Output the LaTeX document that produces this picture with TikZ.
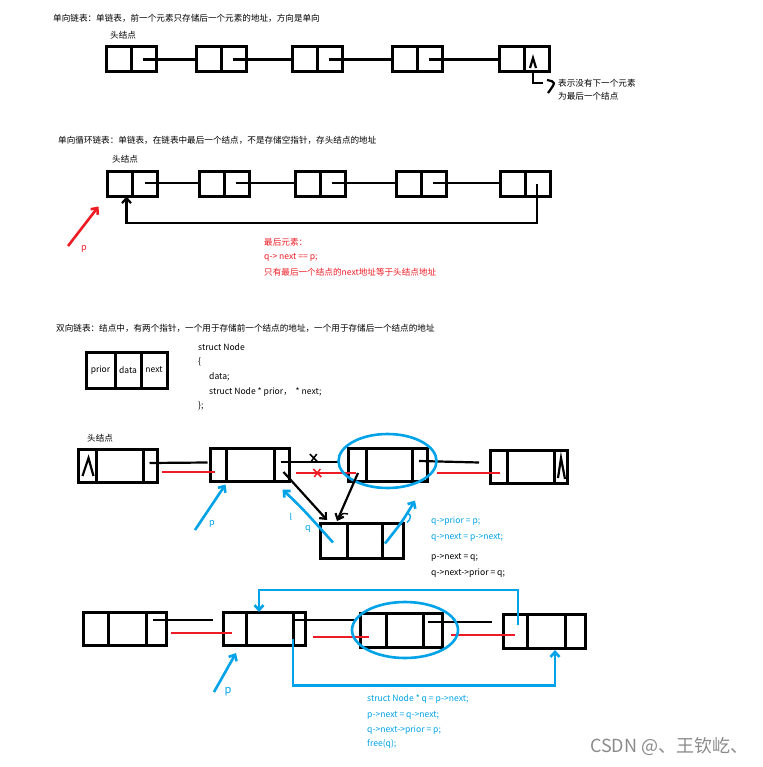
\documentclass[tikz,border=0pt]{standalone}
\usepackage{fontspec}
\setmainfont{Noto Sans CJK SC}
\usetikzlibrary{arrows.meta,calc,positioning}
\definecolor{pblue}{HTML}{00A2E8}
\definecolor{pred}{HTML}{ED1C24}
\definecolor{wmgray}{HTML}{8A8A8A}
\tikzset{tip/.style={-{Straight Barb[length=5pt,width=9pt]}},
  sbox/.style={draw, line width=3pt, minimum width=50pt, minimum height=25pt, inner sep=0pt, outer sep=0pt},
  dbox/.style={draw, line width=3pt, minimum width=79pt, minimum height=33pt, inner sep=0pt, outer sep=0pt},
  fld/.style={draw, line width=3pt, minimum height=36pt, inner sep=0pt, outer sep=0pt, font=\fontsize{8.5}{10}\selectfont},
  wall/.style={line width=3pt},
  link/.style={line width=2.2pt},
  redlink/.style={draw=pred, line width=2.6pt},
  bluelink/.style={draw=pblue, line width=2.6pt},
  note/.style={font=\fontsize{8.6}{10}\selectfont, inner sep=0pt, anchor=west}}

\begin{document}
\begin{tikzpicture}[x=1pt, y=-1pt]
  \useasboundingbox (0,0) rectangle (762,767);
  % single list
  \node[note] (t1) at (53,18) {单向链表：单链表，前一个元素只存储后一个元素的地址，方向是单向};
  \node[note] (h1) at (110,35) {头结点};
  \foreach \i/\x in {1/131,2/221,3/317,4/417,5/524}
    \node[sbox] (s\i) at (\x,59.5) {};
  \foreach \i in {1,...,5} \draw[wall] (s\i.north) -- (s\i.south);
  \foreach \i/\j in {1/2,2/3,3/4,4/5} \draw[link] ($(s\i.center)+(12,0)$) -- (s\j.west);
  \draw[link] ($(s5.center)+(6,8.5)$) -- ++(3,-10) -- ++(3,10);
  \node[note] (n1) at (558,83) {表示没有下一个元素};
  \node[note] (n2) at (558,96) {为最后一个结点};
  \draw[link] ($(s5.center)+(9,11)$) |- ($(n1.west)+(-15,0)$);
  \draw[link] ($(n1.west)+(-11,-3)$) .. controls ($(n1.west)+(-2,-1)$) .. ($(n1.west)+(-10,10)$);

  % circular list
  \node[note] (t2) at (58,140) {单向循环链表：单链表，在链表中最后一个结点，不是存储空指针，存头结点的地址};
  \node[note] (h2) at (112,159) {头结点};
  \foreach \i/\x in {1/132.5,2/224,3/320,4/421,5/525}
    \node[sbox] (c\i) at (\x,184) {};
  \foreach \i in {1,...,5} \draw[wall] (c\i.north) -- (c\i.south);
  \foreach \i/\j in {1/2,2/3,3/4,4/5} \draw[link] ($(c\i.center)+(12,-1)$) -- ($(c\j.west)+(0,-1)$);
  \draw[link, tip] ($(c5.center)+(12,0)$) -- ++(0,39) -| ($(c1.south)+(-6,0)$);
  \coordinate (p2) at (68,246);
  \node[text=pred, font=\fontsize{9}{10}\selectfont] (p2l) at (84,249) {p};
  \draw[redlink, tip] (p2) -- ($(c1.south west)+(-9,10)$);
  \node[note, text=pred] (r1) at (264,242) {最后元素：};
  \node[note, text=pred] (r2) at (264,257) {q-> next == p;};
  \node[note, text=pred] (r3) at (264,272) {只有最后一个结点的next地址等于头结点地址};

  % double list
  \node[note] (t3) at (56,328) {双向链表：结点中，有两个指针，一个用于存储前一个结点的地址，一个用于存储后一个结点的地址};
  \node[fld, minimum width=29pt] (fprior) at (100.5,370) {prior};
  \node[fld, minimum width=26pt, right=0pt of fprior] (fdata) {data};
  \node[fld, minimum width=26pt, right=0pt of fdata] (fnext) {next};
  \node[note, anchor=north west, align=left, font=\fontsize{8.6}{14.7}\selectfont] (code) at (198,343)
    {struct Node\\ \{\\ \hspace{11pt}data;\\ \hspace{11pt}struct Node * prior，\ \ * next;\\ \};};

  % insert q after p
  \node[note] (h3) at (87,438) {头结点};
  \node[dbox] (dA) at (118,465.5) {};
  \node[dbox] (dB) at (250,465) {};
  \node[dbox] (dC) at (387.5,465) {};
  \node[dbox, minimum width=77pt] (dD) at (528.5,466.5) {};
  \node[dbox, minimum width=83pt, minimum height=35pt] (dQ) at (361.5,540.5) {};
  \foreach \n/\l/\r in {dA/18/14,dB/16/15,dC/18/15,dD/17/13,dQ/27/21}{
    \draw[wall] ($(\n.north west)+(\l,0)$) -- ($(\n.south west)+(\l,0)$);
    \draw[wall] ($(\n.north east)+(-\r,0)$) -- ($(\n.south east)+(-\r,0)$);}
  \draw[link] ($(dA.west)+(4,10.5)$) -- ++(6,-18) -- ++(5,18);
  \draw[link] ($(dD.east)+(-9,11.5)$) -- ++(3,-20) -- ++(4,21);
  \draw[link] ($(dA.east)+(-8,-2.5)$) -- ($(dB.west)+(-3,-2.5)$);
  \draw[redlink] ($(dB.west)+(4,7)$) -- ($(dA.east)+(4,6.5)$);
  \draw[link] ($(dB.east)+(-9,-3)$) -- ($(dC.west)+(-10,-3)$);
  \draw[redlink] ($(dC.west)+(8,8)$) -- ($(dB.east)+(6,8)$);
  \draw[link] ($(dC.east)+(-8,-4)$) -- ($(dD.west)+(-11,-4)$);
  \draw[redlink] ($(dD.west)+(10,6.5)$) -- ($(dC.east)+(10,8)$);
  % crossed-out links
  \coordinate (xb) at ($(dB.east)!0.5!(dC.west)+(-5,-7)$);
  \coordinate (xr) at ($(dB.east)!0.5!(dC.west)+(-1.5,8)$);
  \draw[line width=1.5pt] ($(xb)+(-4,-4)$) -- ($(xb)+(4,4)$) ($(xb)+(3,-4)$) -- ($(xb)+(-3,4)$);
  \draw[draw=pred, line width=1.5pt] ($(xr)+(-4,-4)$) -- ($(xr)+(4,4)$) ($(xr)+(3,-4)$) -- ($(xr)+(-3,4)$);
  \draw[bluelink] ($(dC.center)+(0,-4)$) ellipse [x radius=49pt, y radius=27pt];
  \draw[link, tip] ($(dB.east)+(-6,7)$) -- ($(dQ.north west)+(7,-3)$);
  \draw[link, tip] ($(dC.west)+(10,8)$) -- ($(dQ.north west)+(17,-2)$);
  \draw[line width=1.4pt] ($(dQ.north west)+(20,-5)$) .. controls ($(dQ.north west)+(22,-10)$) .. ($(dQ.north west)+(28,-9)$);
  \draw[bluelink, tip] ($(dQ.west)+(13,2)$) .. controls (302,508) .. ($(dB.south east)+(-7,8)$);
  \node[text=pblue, font=\fontsize{9}{10}\selectfont] (lq1) at (291,517) {l};
  \node[text=pblue, font=\fontsize{9}{10}\selectfont] (lq2) at (308,529) {q};
  \draw[bluelink, tip] ($(dQ.east)+(-18,3)$) .. controls (402,522) .. ($(dC.south east)+(-12,19)$);
  \draw[draw=pblue, line width=1.4pt] ($(dC.south east)+(-20,32)$) .. controls ($(dC.south east)+(-15,32)$) and ($(dC.south east)+(-16,38)$) .. ($(dC.south east)+(-20,41)$);
  \coordinate (p3) at (195,530);
  \node[text=pblue, font=\fontsize{9}{10}\selectfont] (p3l) at (212,524) {p};
  \draw[bluelink, tip] (p3) -- ($(dB.south west)+(15,3)$);
  \node[note, text=pblue] (i1) at (431,521) {q->prior = p;};
  \node[note, text=pblue] (i2) at (431,537) {q->next = p->next;};
  \node[note] (i3) at (431,557) {p->next = q;};
  \node[note] (i4) at (431,573) {q->next->prior = q;};

  % delete q after p
  \node[dbox, minimum width=83pt] (dE) at (124.5,628.5) {};
  \node[dbox, minimum width=82pt] (dF) at (264,628.5) {};
  \node[dbox, minimum width=82pt, minimum height=34pt] (dG) at (401,630) {};
  \node[dbox, minimum width=82pt, minimum height=34pt] (dH) at (544,631) {};
  \foreach \n/\l/\r in {dE/25/20,dF/23/12,dG/26/19,dH/24/20}{
    \draw[wall] ($(\n.north west)+(\l,0)$) -- ($(\n.south west)+(\l,0)$);
    \draw[wall] ($(\n.north east)+(-\r,0)$) -- ($(\n.south east)+(-\r,0)$);}
  \draw[link] ($(dE.east)+(-13,-8.5)$) -- ($(dF.west)+(-10,-8.5)$);
  \draw[redlink] ($(dF.west)+(9,4.5)$) -- ($(dE.east)+(5,4.5)$);
  \draw[link] ($(dF.east)+(-10,-8.5)$) -- ($(dG.west)+(-5,-10)$);
  \draw[redlink] ($(dG.west)+(9,7)$) -- ($(dF.east)+(8,8.5)$);
  \draw[link] ($(dG.east)+(-14,-8)$) -- ($(dH.west)+(-11,-9)$);
  \draw[redlink] ($(dH.west)+(12,4)$) -- ($(dG.east)+(9,5)$);
  \draw[bluelink] ($(dG.center)+(4,0)$) ellipse [x radius=53pt, y radius=28pt];
  \draw[bluelink, tip] ($(dH.west)+(15,-6)$) -- ++(0,-35) -| ($(dF.north)+(-5,0)$);
  \draw[bluelink, tip] ($(dF.east)+(-12,10)$) -- ++(0,47) -| ($(dH.south)+(11,2)$);
  \coordinate (p4) at (214,692);
  \node[text=pblue, font=\fontsize{11}{12}\selectfont\itshape] (p4l) at (228,692) {p};
  \draw[bluelink, tip] (p4) -- ($(dF.south west)+(13,8)$);
  \node[note, text=pblue] (d1) at (367,699) {struct Node * q = p->next;};
  \node[note, text=pblue] (d2) at (367,715) {p->next = q->next;};
  \node[note, text=pblue] (d3) at (367,730) {q->next->prior = p;};
  \node[note, text=pblue] (d4) at (367,744) {free(q);};

  \node[note, text=wmgray, font=\fontsize{18}{20}\selectfont] (wm) at (590,746) {CSDN @、王钦屹、};
\end{tikzpicture}
\end{document}
